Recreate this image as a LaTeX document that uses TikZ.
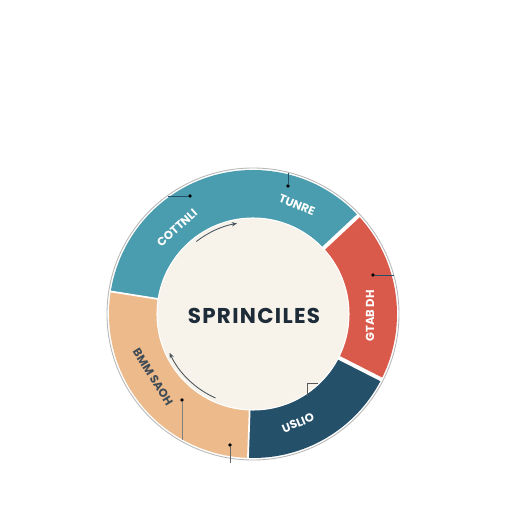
\documentclass[tikz,border=0pt]{standalone}
\usepackage{fontspec}
\usepackage{tikz}
\usetikzlibrary{arrows.meta}
\setsansfont{Poppins}
\newfontfamily\titlefont[LetterSpace=6]{Poppins}

\definecolor{ringteal}{HTML}{4A9CAF}
\definecolor{ringred}{HTML}{D95A4A}
\definecolor{ringnavy}{HTML}{25506A}
\definecolor{ringbeige}{HTML}{EDBA8B}
\definecolor{hubcream}{HTML}{F7F3EA}
\definecolor{inkdark}{HTML}{1D2C38}

\tikzset{
  segment/.style={fill=#1, draw=none},
  seglabel/.style={font=\sffamily\bfseries\fontsize{6.6}{7}\selectfont, inner sep=0pt},
  leader/.style={line width=0.5pt},
  tipdot/.style={circle, fill, inner sep=0pt, minimum size=2.2pt}
}

\begin{document}
\begin{tikzpicture}
  \useasboundingbox[fill=white] (-5.06,-3.96) rectangle (5.18,6.28);

  % ring segments
  \fill[segment=ringteal] (43:2.88) arc[start angle=43, end angle=171, radius=2.88]
    -- (171:1.92) arc[start angle=171, end angle=43, radius=1.92] -- cycle;
  \fill[segment=ringred] (-27:2.88) arc[start angle=-27, end angle=43, radius=2.88]
    -- (43:1.92) arc[start angle=43, end angle=-27, radius=1.92] -- cycle;
  \fill[segment=ringnavy] (-92:2.88) arc[start angle=-92, end angle=-27, radius=2.88]
    -- (-27:1.92) arc[start angle=-27, end angle=-92, radius=1.92] -- cycle;
  \fill[segment=ringbeige] (171:2.88) arc[start angle=171, end angle=268, radius=2.88]
    -- (268:1.92) arc[start angle=268, end angle=171, radius=1.92] -- cycle;

  \foreach \a/\w in {43/2.2pt, -27/2.2pt, -92/1pt, 171/1pt}
    \draw[white, line width=\w] (\a:1.85) -- (\a:2.95);
  \draw[gray!55, line width=0.5pt] (0,0) circle[radius=2.92];

  \node[circle, fill=hubcream, draw=white, line width=0.6pt, minimum size=3.84cm] (hub) at (0,0) {};
  \node[text=inkdark, inner sep=0pt] (title) at (0.02,-0.04)
    {\titlefont\fontsize{12.2}{14}\selectfont\bfseries SPRINCILES};

  % labels on the ring
  \node[seglabel, text=white, rotate=42] (lblteal) at (-1.52,1.72) {COTTNLI};
  \node[seglabel, text=white, rotate=-22] (lbltop) at (0.88,2.18) {TUNRE};
  \node[seglabel, text=white, rotate=90] (lblred) at (2.34,-0.04) {GTAB DH};
  \node[seglabel, text=inkdark!85, rotate=-58] (lblbeige) at (-2.00,-1.26) {BMM SAOH};
  \node[seglabel, text=white, rotate=22] (lblnavy) at (0.90,-2.18) {USLIO};

  % arrows inside the hub
  \coordinate (arcA) at (128:1.84);
  \coordinate (arcB) at (246:1.84);
  \draw[inkdark!80, line width=0.5pt, -{Stealth[length=3pt,width=2.5pt]}]
    (arcA) arc[start angle=128, end angle=100, radius=1.84];
  \draw[inkdark!80, line width=0.5pt, -{Stealth[length=3pt,width=2.5pt]}]
    (arcB) arc[start angle=246, end angle=205, radius=1.84];

  % leader lines
  \coordinate (tlA) at (-1.70,2.36);
  \node[tipdot, text=ringnavy] (tlB) at (-1.26,2.36) {};
  \draw[leader, ringnavy] (tlA) -- (tlB);

  \coordinate (tpA) at (0.70,2.82);
  \node[tipdot, text=ringnavy] (tpB) at (0.70,2.56) {};
  \draw[leader, ringnavy] (tpA) -- (tpB);

  \node[tipdot, text=ringnavy] (rtA) at (2.40,0.78) {};
  \coordinate (rtB) at (2.82,0.78);
  \draw[leader, ringnavy] (rtA) -- (rtB);

  \node[tipdot, text=gray] (blA) at (-1.42,-1.72) {};
  \coordinate (blB) at (-1.42,-2.52);
  \draw[leader, gray] (blA) -- (blB);

  \node[tipdot, text=gray!80!black] (bmA) at (-0.46,-2.62) {};
  \coordinate (bmB) at (-0.46,-2.98);
  \draw[leader, gray!80!black] (bmA) -- (bmB);

  \coordinate (nvA) at (1.30,-1.38);
  \coordinate (nvB) at (1.08,-1.38);
  \coordinate (nvC) at (1.08,-1.64);
  \draw[leader, gray!70!black] (nvA) -- (nvB) -- (nvC);
\end{tikzpicture}
\end{document}
